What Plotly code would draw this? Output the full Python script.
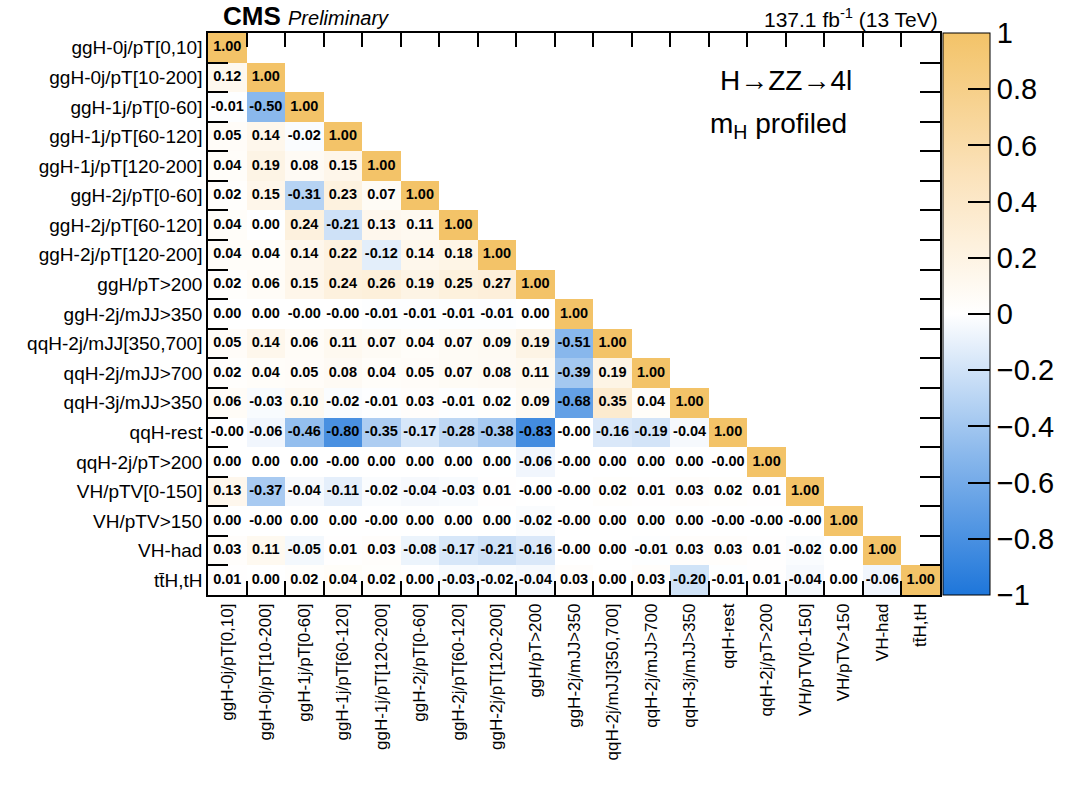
import plotly.graph_objects as go

labels = [
    "ggH-0j/pT[0,10]", "ggH-0j/pT[10-200]", "ggH-1j/pT[0-60]", "ggH-1j/pT[60-120]",
    "ggH-1j/pT[120-200]", "ggH-2j/pT[0-60]", "ggH-2j/pT[60-120]", "ggH-2j/pT[120-200]",
    "ggH/pT>200", "ggH-2j/mJJ>350", "qqH-2j/mJJ[350,700]", "qqH-2j/mJJ>700",
    "qqH-3j/mJJ>350", "qqH-rest", "qqH-2j/pT>200", "VH/pTV[0-150]", "VH/pTV>150",
    "VH-had", "tt\u0304H,tH",
]

row_00 = [1.00]
row_01 = [0.12, 1.00]
row_02 = [-0.01, -0.50, 1.00]
row_03 = [0.05, 0.14, -0.02, 1.00]
row_04 = [0.04, 0.19, 0.08, 0.15, 1.00]
row_05 = [0.02, 0.15, -0.31, 0.23, 0.07, 1.00]
row_06 = [0.04, 0.00, 0.24, -0.21, 0.13, 0.11, 1.00]
row_07 = [0.04, 0.04, 0.14, 0.22, -0.12, 0.14, 0.18, 1.00]
row_08 = [0.02, 0.06, 0.15, 0.24, 0.26, 0.19, 0.25, 0.27, 1.00]
row_09 = [0.00, 0.00, -0.0, -0.0, -0.01, -0.01, -0.01, -0.01, 0.00, 1.00]
row_10 = [0.05, 0.14, 0.06, 0.11, 0.07, 0.04, 0.07, 0.09, 0.19, -0.51, 1.00]
row_11 = [0.02, 0.04, 0.05, 0.08, 0.04, 0.05, 0.07, 0.08, 0.11, -0.39, 0.19, 1.00]
row_12 = [0.06, -0.03, 0.10, -0.02, -0.01, 0.03, -0.01, 0.02, 0.09, -0.68, 0.35, 0.04, 1.00]
row_13 = [-0.0, -0.06, -0.46, -0.80, -0.35, -0.17, -0.28, -0.38, -0.83, -0.0, -0.16, -0.19, -0.04, 1.00]
row_14 = [0.00, 0.00, 0.00, -0.0, 0.00, 0.00, 0.00, 0.00, -0.06, -0.0, 0.00, 0.00, 0.00, -0.0, 1.00]
row_15 = [0.13, -0.37, -0.04, -0.11, -0.02, -0.04, -0.03, 0.01, -0.0, -0.0, 0.02, 0.01, 0.03, 0.02, 0.01, 1.00]
row_16 = [0.00, -0.0, 0.00, 0.00, -0.0, 0.00, 0.00, 0.00, -0.02, -0.0, 0.00, 0.00, 0.00, -0.0, -0.0, -0.0, 1.00]
row_17 = [0.03, 0.11, -0.05, 0.01, 0.03, -0.08, -0.17, -0.21, -0.16, -0.0, 0.00, -0.01, 0.03, 0.03, 0.01, -0.02, 0.00, 1.00]
row_18 = [0.01, 0.00, 0.02, 0.04, 0.02, 0.00, -0.03, -0.02, -0.04, 0.03, 0.00, 0.03, -0.20, -0.01, 0.01, -0.04, 0.00, -0.06, 1.00]

rows = [row_00, row_01, row_02, row_03, row_04, row_05, row_06, row_07, row_08, row_09,
        row_10, row_11, row_12, row_13, row_14, row_15, row_16, row_17, row_18]

n = len(labels)
z = [r + [None] * (n - len(r)) for r in rows]

# text labels for the filled cells, positioned on the same category axes
tx, ty, tt = [], [], []
for i, r in enumerate(rows):
    for j, v in enumerate(r):
        tx.append(labels[j])
        ty.append(labels[i])
        tt.append(f"<b>{v:.2f}</b>")

colorscale = [
    [0.0, "rgb(30,118,218)"],
    [0.25, "rgb(138,184,236)"],
    [0.5, "rgb(255,255,255)"],
    [0.75, "rgb(251,226,186)"],
    [1.0, "rgb(243,195,104)"],
]

fig = go.Figure()
fig.add_trace(go.Heatmap(
    z=z, x=labels, y=labels,
    colorscale=colorscale, zmin=-1, zmax=1, hoverongaps=False,
    colorbar=dict(
        x=1.004, xanchor="left", xpad=0, y=0.5, yanchor="middle", len=1, ypad=0,
        thickness=47, outlinewidth=1, outlinecolor="black",
        tickvals=[-1, -0.8, -0.6, -0.4, -0.2, 0, 0.2, 0.4, 0.6, 0.8, 1],
        ticktext=["\u22121", "\u22120.8", "\u22120.6", "\u22120.4", "\u22120.2", "0",
                  "0.2", "0.4", "0.6", "0.8", "1"],
        ticks="inside", ticklen=22, tickwidth=1.5, tickcolor="black",
        tickfont=dict(family="Liberation Sans", size=29, color="black"),
    ),
))
fig.add_trace(go.Scatter(
    x=tx, y=ty, text=tt, mode="text", textposition="middle center",
    textfont=dict(family="Liberation Sans", size=14.5, color="black"),
    hoverinfo="skip", showlegend=False,
))

fig.update_xaxes(
    type="category", categoryorder="array", categoryarray=labels,
    tickangle=-90, tickson="boundaries", ticks="inside", ticklen=14,
    tickwidth=1.5, tickcolor="black", showline=True, linecolor="black", linewidth=1.5,
    mirror="ticks", showgrid=False, zeroline=False, range=[-0.5, n - 0.5],
    tickfont=dict(family="Liberation Sans", size=17, color="black"),
)
fig.update_yaxes(
    type="category", categoryorder="array", categoryarray=labels,
    tickson="boundaries", ticks="inside", ticklen=20, range=[n - 0.5, -0.5],
    tickwidth=1.5, tickcolor="black", showline=True, linecolor="black", linewidth=1.5,
    mirror="ticks", showgrid=False, zeroline=False,
    tickfont=dict(family="Liberation Sans", size=19, color="black"),
)

fig.add_annotation(x=0.018, y=1.0, xref="paper", yref="paper", xanchor="left", yanchor="bottom",
                   yshift=0, showarrow=False,
                   text="<b>CMS</b> <span style='font-size:20px'><i>Preliminary</i></span>",
                   font=dict(family="Liberation Sans", size=26, color="black"))
fig.add_annotation(x=1.0, y=1.0, xref="paper", yref="paper", xanchor="right", yanchor="bottom",
                   yshift=0, showarrow=False,
                   text="137.1 fb<sup>-1</sup> (13 TeV)",
                   font=dict(family="Liberation Sans", size=21, color="black"))
fig.add_annotation(x=0.79, y=0.916, xref="paper", yref="paper", xanchor="center", yanchor="middle",
                   showarrow=False, text="H\u2192ZZ\u21924l",
                   font=dict(family="Liberation Sans", size=28, color="black"))
fig.add_annotation(x=0.78, y=0.836, xref="paper", yref="paper", xanchor="center", yanchor="middle",
                   showarrow=False, text="m<sub>H</sub> profiled",
                   font=dict(family="Liberation Sans", size=28, color="black"))

fig.update_layout(
    width=1066, height=786, margin=dict(l=208, r=126, t=33, b=191, autoexpand=False),
    paper_bgcolor="white", plot_bgcolor="white",
    font=dict(family="Liberation Sans", color="black"),
)

fig.write_html("out.html")
